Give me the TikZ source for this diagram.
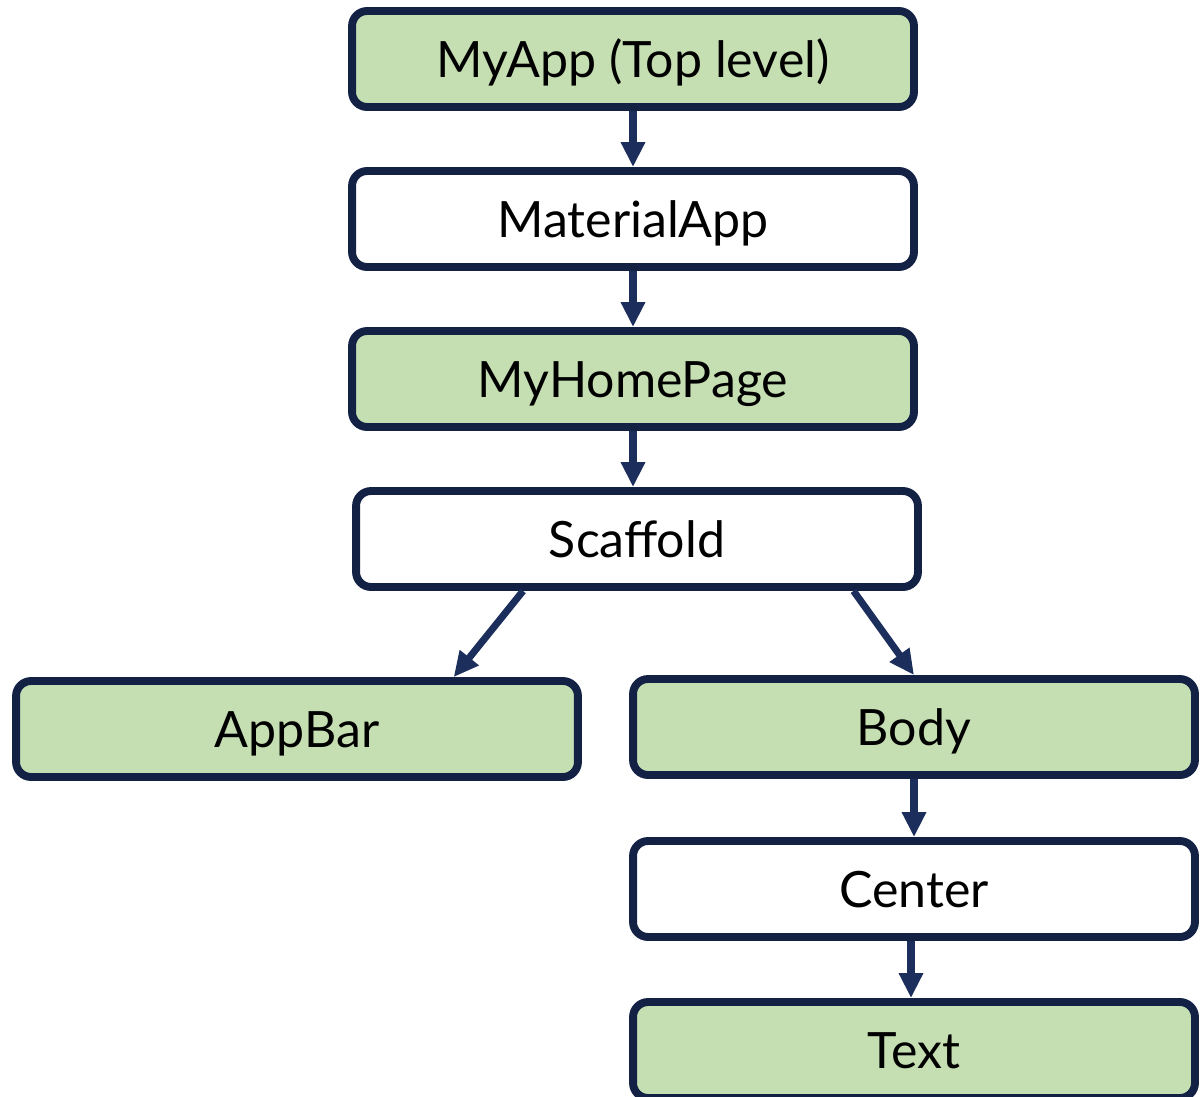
\documentclass[tikz,border=0pt]{standalone}
\usepackage{fontspec}
\setmainfont{Lato}
\usetikzlibrary{arrows.meta,calc}

\definecolor{boxline}{RGB}{19,34,68}
\definecolor{arrowline}{RGB}{28,47,92}
\definecolor{leafgreen}{RGB}{198,223,178}

\tikzset{
  widget/.style={draw=boxline, line width=4.5pt, rounded corners=0.3cm,
    minimum width=11.24cm, minimum height=1.92cm, inner sep=0pt,
    font=\fontsize{28.5}{34}\selectfont, text=black,
    text height=20.5pt, text depth=0pt},
  greenbox/.style={widget, fill=leafgreen},
  whitebox/.style={widget, fill=white},
  link/.style={draw=arrowline, line width=4pt,
    -{Triangle[length=0.5cm, width=0.46cm]}}
}

\begin{document}
\begin{tikzpicture}[x=0.02cm, y=-0.02cm]
  \useasboundingbox (0,0) rectangle (1203,1096);

  \node[greenbox] (myapp)    at (633,59)   {MyApp (Top level)};
  \node[whitebox] (material) at (633,219)  {MaterialApp};
  \node[greenbox] (home)     at (633,379)  {MyHomePage};
  \node[whitebox] (scaffold) at (637,539)  {Scaffold};
  \node[greenbox] (appbar)   at (297,729)  {AppBar};
  \node[greenbox] (body)     at (914,727)  {Body};
  \node[whitebox] (center)   at (914,889)  {Center};
  \node[greenbox] (text)     at (914,1050) {Text};

  \draw[link] (myapp) -- (material);
  \draw[link] (material) -- (home);
  \draw[link] (home.south) -- (home.south |- scaffold.north);
  \draw[link] ($(scaffold.south west)!0.3!(scaffold.south east)$)
    -- ($(appbar.north west)!0.775!(appbar.north east)$);
  \draw[link] ($(scaffold.south west)!0.88!(scaffold.south east)$)
    -- (body.north);
  \draw[link] (body) -- (center);
  \draw[link] ($(center.south)+(-3,0)$) -- ($(text.north)+(-3,0)$);
\end{tikzpicture}
\end{document}
